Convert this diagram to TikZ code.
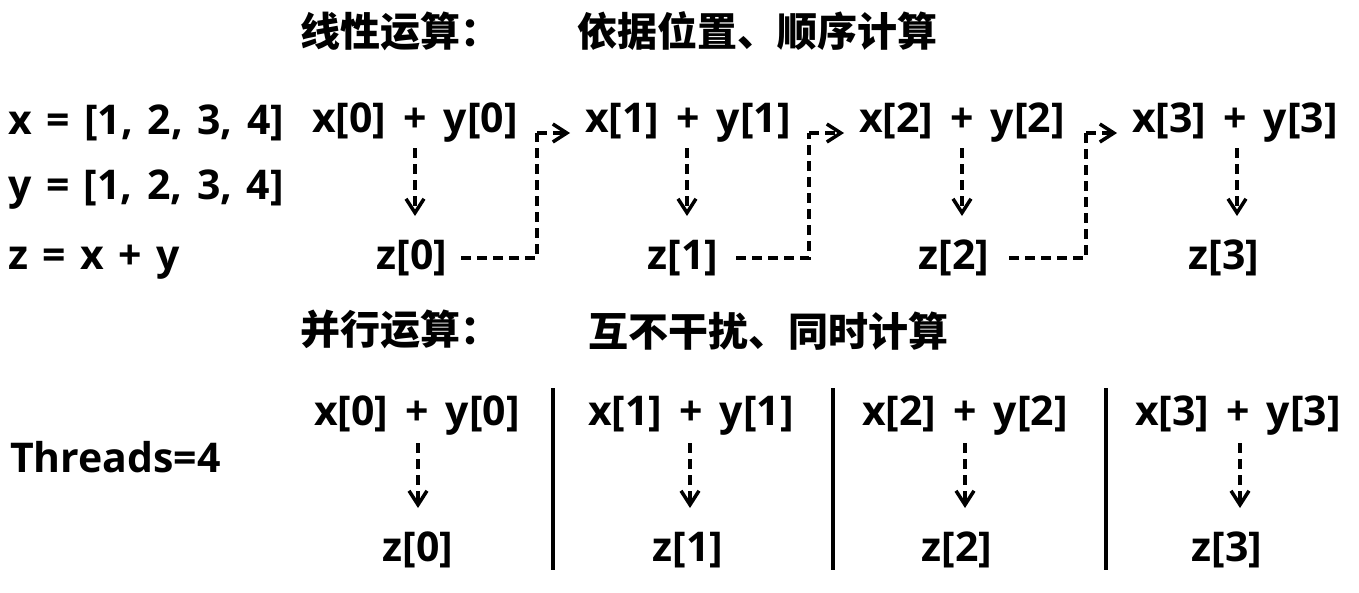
\documentclass[tikz,border=0pt]{standalone}
\usepackage{fontspec}
\setmainfont{Open Sans}
\newfontfamily\cjk{Noto Sans CJK SC}
\usetikzlibrary{arrows.meta}
\newcommand\widesp{\spaceskip=14.5pt\relax}
\newcommand\expr[1]{\widesp x[#1]\hspace{3pt} +\hspace{2pt} y[#1]}
\begin{document}
\begin{tikzpicture}[x=1pt,y=-1pt,
  lbl/.style={font=\fontsize{41}{48}\selectfont\bfseries,inner sep=0pt},
  def/.style={lbl,anchor=west},
  ttl/.style={font=\cjk\fontsize{40}{46}\selectfont\bfseries,inner sep=0pt,anchor=west},
  dsh/.style={line width=4pt,dash pattern=on 10pt off 6pt},
  tip/.style={-{Straight Barb[length=14pt,width=18pt,line width=3.5pt]}},
  sep/.style={line width=4pt}]
\useasboundingbox (0,0) rectangle (1359,592);
% titles
\node[ttl] (t1) at (300,31) {线性运算：};
\node[ttl] (t2) at (577,31) {依据位置、顺序计算};
\node[ttl] (t3) at (300,329) {并行运算：};
\node[ttl] (t4) at (588,331) {互不干扰、同时计算};
% left definitions
\node[def] (dx) at (8,123) {\widesp x = [1, 2, 3, 4]};
\node[def] (dy) at (8,190) {\widesp y = [1, 2, 3, 4]};
\node[def] (dz) at (8,262) {\widesp z = x + y};
\node[lbl,anchor=west] (th) at (10,457) {Threads=4};
% linear row
\node[lbl] (a0) at (415,123) {\expr{0}};
\node[lbl] (a1) at (688,123) {\expr{1}};
\node[lbl] (a2) at (962,123) {\expr{2}};
\node[lbl] (a3) at (1235,123) {\expr{3}};
\node[lbl] (b0) at (412,258) {z[0]};
\node[lbl] (b1) at (683,258) {z[1]};
\node[lbl] (b2) at (954,258) {z[2]};
\node[lbl] (b3) at (1224,258) {z[3]};
\foreach \xx in {415,687,962,1237}{
  \draw[dsh,tip] (\xx,148) -- (\xx,216);
}
\coordinate (k0) at (537,133);
\coordinate (k1) at (809,133);
\coordinate (k2) at (1086,133);
\draw[dsh] ([xshift=14pt]b0.east) -| (k0);
\draw[dsh,tip] (k0) -- ([xshift=-15pt]a1.west |- k0);
\draw[dsh] ([xshift=18pt]b1.east) -| (k1);
\draw[dsh,tip] (k1) -- ([xshift=-15pt]a2.west |- k1);
\draw[dsh] ([xshift=20pt]b2.east) -| (k2);
\draw[dsh,tip] (k2) -- ([xshift=-15pt]a3.west |- k2);
% parallel row
\node[lbl] (p0) at (417,416) {\expr{0}};
\node[lbl] (p1) at (691,416) {\expr{1}};
\node[lbl] (p2) at (965,416) {\expr{2}};
\node[lbl] (p3) at (1238,416) {\expr{3}};
\node[lbl] (q0) at (418,550) {z[0]};
\node[lbl] (q1) at (688,550) {z[1]};
\node[lbl] (q2) at (957,550) {z[2]};
\node[lbl] (q3) at (1227,550) {z[3]};
\foreach \xx in {418,690,965,1240}{
  \draw[dsh,tip] (\xx,443) -- (\xx,508);
}
\draw[sep] (553,388) -- (553,570);
\draw[sep] (833,388) -- (833,570);
\draw[sep] (1106,388) -- (1106,570);
\end{tikzpicture}
\end{document}
